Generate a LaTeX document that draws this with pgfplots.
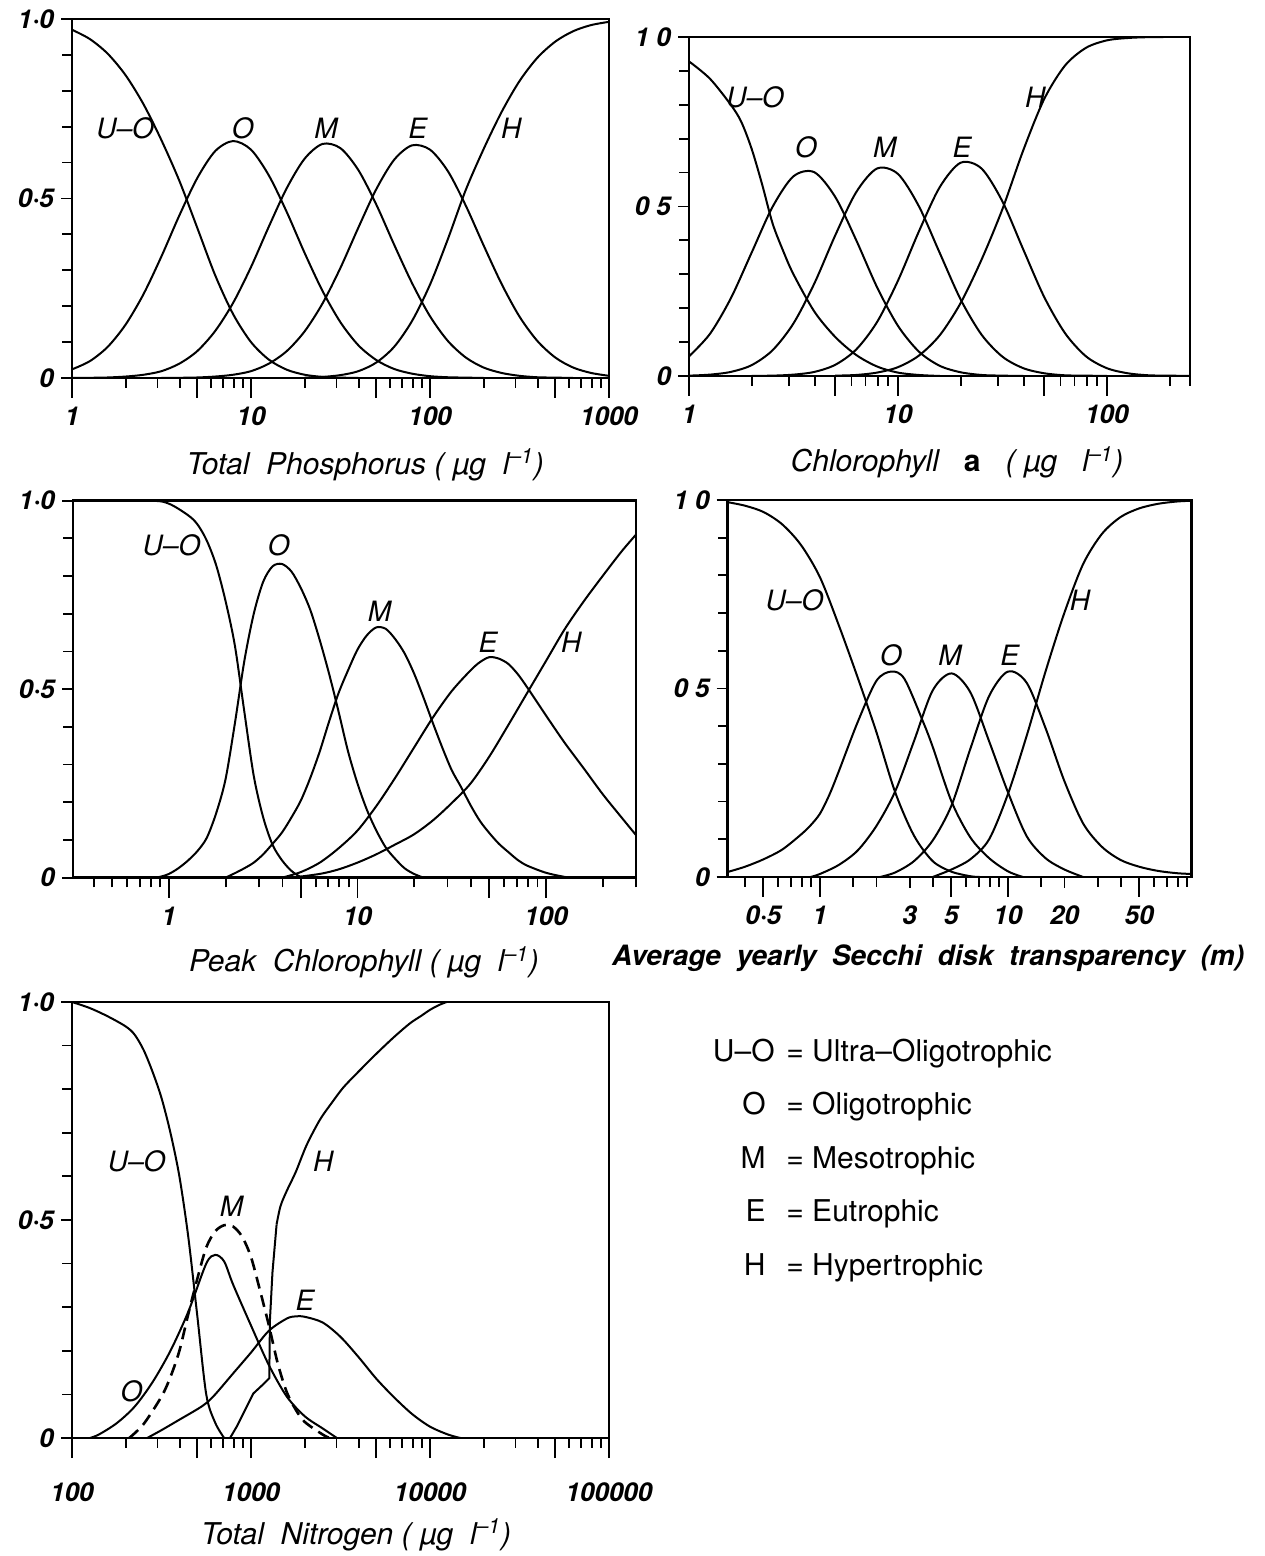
\documentclass[border=0pt]{standalone}
\usepackage{fontspec}
\setmainfont{TeX Gyre Heros}
\usepackage{pgfplots}
\pgfplotsset{compat=1.18}
\pgfplotsset{
 trophic/.style={
  anchor=south west, scale only axis, ymin=0, ymax=1,
  axis line style={line width=1.4pt},
  tick align=outside, xtick pos=left, ytick pos=left,
  major tick length=5.5pt, minor tick length=4.8pt,
  tick style={black, line width=0.9pt},
  ytick={0,0.5,1},
  minor ytick={0.1,0.2,0.3,0.4,0.6,0.7,0.8,0.9},
  extra x tick labels={},
  extra x tick style={major tick length=10pt},
  tick label style={font=\fontsize{13}{15}\selectfont\bfseries\itshape},
  xticklabel style={yshift=-5.5pt},
  xlabel style={font=\fontsize{15}{17}\selectfont\itshape, anchor=center},
 },
 crv/.style={black, line width=1pt, smooth},
}
\tikzset{lab/.style={font=\fontsize{14}{16}\selectfont\itshape}}
\begin{document}
\begin{tikzpicture}
\useasboundingbox (0,0) rectangle (632pt,778pt);

% ---------------- Panel 1: Total Phosphorus
\begin{semilogxaxis}[trophic, at={(36pt,589pt)}, width=268.5pt, height=179.5pt,
 xmin=1, xmax=1000,
 xtick={1,10,100,1000}, xticklabels={1,10,100,1000},
 extra x ticks={1,5,10,50,100,500,1000},
 minor xtick={2,3,4,6,7,8,9,20,30,40,60,70,80,90,200,300,400,600,700,800,900},
 yticklabels={0,0·5,1·0},
 xlabel={Total\ \ Phosphorus\ ( µg\ \ l\textsuperscript{–1})},
 xlabel style={at={(axis description cs:0.546,-0.242)}}]
\addplot[crv] coordinates {(1,0.970)(1.259,0.944)(1.585,0.903)(1.995,0.843)(2.512,0.762)(3.162,0.662)(3.981,0.549)(5.012,0.418)(6.31,0.286)(7.943,0.178)(10,0.100)(12.59,0.051)(15.85,0.023)(19.95,0.009)(25.12,0.003)(31.62,0.001)(39.81,0)};
\addplot[crv] coordinates {(1,0.024)(1.259,0.047)(1.585,0.087)(1.995,0.149)(2.512,0.234)(3.162,0.339)(3.981,0.453)(5.012,0.557)(6.31,0.632)(7.943,0.660)(10,0.636)(12.59,0.564)(15.85,0.462)(19.95,0.348)(25.12,0.242)(31.62,0.155)(39.81,0.091)(50.12,0.050)(63.1,0.025)(79.43,0.012)(100,0.005)(125.9,0.002)(158.5,0.001)(199.5,0)};
\addplot[crv] coordinates {(1,0)(1.259,0.0005)(1.585,0.0014)(1.995,0.004)(2.512,0.009)(3.162,0.019)(3.981,0.040)(5.012,0.075)(6.31,0.131)(7.943,0.209)(10,0.309)(12.59,0.422)(15.85,0.529)(19.95,0.611)(25.12,0.652)(31.62,0.640)(39.81,0.579)(50.12,0.483)(63.1,0.371)(79.43,0.264)(100,0.172)(125.9,0.103)(158.5,0.057)(199.5,0.029)(251.2,0.014)(316.2,0.006)(398.1,0.002)(501.2,0.001)(631,0)};
\addplot[crv] coordinates {(3.162,0)(3.981,0.0005)(5.012,0.0014)(6.31,0.004)(7.943,0.009)(10,0.019)(12.59,0.040)(15.85,0.075)(19.95,0.130)(25.12,0.208)(31.62,0.307)(39.81,0.419)(50.12,0.526)(63.1,0.608)(79.43,0.648)(100,0.636)(125.9,0.576)(158.5,0.480)(199.5,0.369)(251.2,0.262)(316.2,0.171)(398.1,0.103)(501.2,0.057)(631,0.029)(794.3,0.014)(1000,0.006)};
\addplot[crv] coordinates {(19.95,0.001)(25.12,0.003)(31.62,0.008)(39.81,0.019)(50.12,0.043)(63.1,0.087)(79.43,0.159)(100,0.260)(125.9,0.387)(158.5,0.524)(199.5,0.638)(251.2,0.741)(316.2,0.827)(398.1,0.892)(501.2,0.937)(631,0.966)(794.3,0.983)(1000,0.992)};
\node[lab] at (rel axis cs:0.099,0.696) {U–O};
\node[lab] at (rel axis cs:0.318,0.696) {O};
\node[lab] at (rel axis cs:0.473,0.696) {M};
\node[lab] at (rel axis cs:0.644,0.696) {E};
\node[lab] at (rel axis cs:0.818,0.696) {H};
\end{semilogxaxis}

% ---------------- Panel 2: Chlorophyll a
\begin{semilogxaxis}[trophic, at={(344.5pt,590pt)}, width=250.5pt, height=169.5pt,
 xmin=1, xmax=250,
 xtick={1,10,100}, xticklabels={1,10,100},
 extra x ticks={1,5,10,50,100},
 minor xtick={2,3,4,6,7,8,9,20,30,40,60,70,80,90,200,250},
 yticklabels={0,0 5,1 0},
 xlabel={Chlorophyll\ \ \ {\upshape\bfseries a}\ \ \ (\ µg\ \ \ l\textsuperscript{–1})},
 xlabel style={at={(axis description cs:0.535,-0.254)}}]
\addplot[crv] coordinates {(1,0.928)(1.259,0.877)(1.585,0.80)(1.778,0.75)(1.995,0.67)(2.239,0.565)(2.512,0.45)(2.818,0.37)(3.162,0.30)(3.981,0.19)(5.012,0.115)(6.31,0.062)(7.943,0.028)(10,0.01)(12.59,0.003)(15.85,0)};
\addplot[crv] coordinates {(1,0.058)(1.259,0.124)(1.585,0.229)(1.995,0.364)(2.512,0.499)(3.162,0.589)(3.981,0.601)(5.012,0.528)(6.31,0.401)(7.943,0.262)(10,0.148)(12.59,0.072)(15.85,0.030)(19.95,0.011)(25.12,0.003)(31.62,0.001)(39.81,0)};
\addplot[crv] coordinates {(1,0.001)(1.259,0.004)(1.585,0.012)(1.995,0.032)(2.512,0.076)(3.162,0.155)(3.981,0.273)(5.012,0.415)(6.31,0.542)(7.943,0.612)(10,0.596)(12.59,0.501)(15.85,0.363)(19.95,0.226)(25.12,0.122)(31.62,0.057)(39.81,0.023)(50.12,0.008)(63.1,0.002)(79.43,0.001)(100,0)};
\addplot[crv] coordinates {(1.995,0.0003)(2.512,0.001)(3.162,0.004)(3.981,0.012)(5.012,0.033)(6.31,0.078)(7.943,0.159)(10,0.281)(12.59,0.426)(15.85,0.557)(19.95,0.629)(25.12,0.612)(31.62,0.515)(39.81,0.373)(50.12,0.233)(63.1,0.126)(79.43,0.058)(100,0.023)(125.9,0.008)(158.5,0.002)(199.5,0.001)(250,0)};
\addplot[crv] coordinates {(5.012,0.001)(6.31,0.003)(7.943,0.010)(10,0.026)(12.59,0.060)(15.85,0.120)(19.95,0.215)(25.12,0.343)(31.62,0.492)(39.81,0.666)(50.12,0.817)(63.1,0.916)(79.43,0.968)(100,0.990)(125.9,0.997)(158.5,0.9995)(199.5,1)(250,1)};
\node[lab] at (rel axis cs:0.132,0.823) {U–O};
\node[lab] at (rel axis cs:0.2335,0.676) {O};
\node[lab] at (rel axis cs:0.391,0.676) {M};
\node[lab] at (rel axis cs:0.545,0.676) {E};
\node[lab] at (rel axis cs:0.691,0.823) {H};
\end{semilogxaxis}

% ---------------- Panel 3: Peak Chlorophyll
\begin{semilogxaxis}[trophic, at={(36.5pt,339.15pt)}, width=281.5pt, height=188.5pt,
 xmin=0.31, xmax=300,
 xtick={1,10,100}, xticklabels={1,10,100},
 extra x ticks={1,5,10,50,100},
 minor xtick={0.4,0.5,0.6,0.7,0.8,0.9,2,3,4,6,7,8,9,20,30,40,60,70,80,90,200,300},
 yticklabels={0,0·5,1·0},
 xlabel={Peak\ \ Chlorophyll\ ( µg\ \ l\textsuperscript{–1})},
 xlabel style={at={(axis description cs:0.517,-0.224)}}]
\addplot[crv] coordinates {(0.3162,1.0)(0.7943,1.0)(1,0.992)(1.259,0.962)(1.413,0.938)(1.585,0.895)(1.778,0.83)(1.995,0.735)(2.239,0.615)(2.512,0.44)(2.818,0.27)(3.162,0.16)(3.548,0.087)(3.981,0.046)(4.467,0.018)(5.012,0.002)(5.623,0)};
\addplot[crv] coordinates {(0.7943,0)(0.8913,0.002)(1,0.01)(1.122,0.025)(1.259,0.045)(1.413,0.07)(1.585,0.105)(1.778,0.17)(1.995,0.26)(2.239,0.41)(2.512,0.575)(2.818,0.70)(3.162,0.785)(3.548,0.826)(3.981,0.832)(4.467,0.812)(5.012,0.768)(5.623,0.71)(6.31,0.63)(7.079,0.54)(7.943,0.44)(8.913,0.335)(10,0.25)(11.22,0.18)(12.59,0.125)(14.13,0.08)(15.85,0.05)(17.78,0.025)(19.95,0.01)(22.39,0)};
\addplot[crv] coordinates {(1.995,0)(2.239,0.012)(2.512,0.025)(2.818,0.04)(3.162,0.062)(3.548,0.09)(3.981,0.12)(4.467,0.16)(5.012,0.205)(5.623,0.265)(6.31,0.335)(7.079,0.415)(7.943,0.49)(8.913,0.55)(10,0.605)(11.22,0.643)(12.59,0.664)(14.13,0.66)(15.85,0.633)(17.78,0.595)(19.95,0.542)(22.39,0.478)(25.12,0.41)(28.18,0.345)(31.62,0.285)(35.48,0.24)(39.81,0.192)(44.67,0.15)(50.12,0.118)(56.23,0.09)(63.1,0.068)(70.79,0.047)(79.43,0.032)(100,0.013)(125.9,0.002)(141.3,0)};
\addplot[crv] coordinates {(3.981,0)(5.012,0.015)(6.31,0.04)(7.943,0.078)(10,0.125)(12.59,0.19)(15.85,0.265)(19.95,0.345)(25.12,0.425)(31.62,0.495)(39.81,0.55)(44.67,0.572)(50.12,0.585)(56.23,0.581)(63.1,0.567)(70.79,0.54)(79.43,0.505)(100,0.43)(125.9,0.357)(158.5,0.29)(199.5,0.222)(251.2,0.16)(300,0.113)};
\addplot[crv] coordinates {(4.467,0)(6.31,0.01)(7.943,0.022)(10,0.04)(12.59,0.062)(15.85,0.088)(19.95,0.115)(25.12,0.152)(31.62,0.198)(39.81,0.25)(50.12,0.322)(63.1,0.405)(79.43,0.49)(100,0.575)(125.9,0.66)(158.5,0.733)(199.5,0.80)(251.2,0.865)(300,0.91)};
\node[lab] at (rel axis cs:0.175,0.883) {U–O};
\node[lab] at (rel axis cs:0.3655,0.883) {O};
\node[lab] at (rel axis cs:0.5446,0.707) {M};
\node[lab] at (rel axis cs:0.737,0.624) {E};
\node[lab] at (rel axis cs:0.885,0.624) {H};
\end{semilogxaxis}

% ---------------- Panel 4: Secchi
\begin{semilogxaxis}[trophic, at={(363.85pt,339.5pt)}, width=232pt, height=188.5pt,
 xmin=0.323, xmax=95,
 xtick={0.5,1,3,5,10,20,50}, xticklabels={0·5,1,3,5,10,20,50},
 extra x ticks={0.5,1,5,10,50},
 minor xtick={0.4,0.6,0.7,0.8,0.9,1.5,2,4,6,7,8,9,15,30,40,60,70,80,90},
 yticklabels={0,0 5,1 0},
 xlabel={\bfseries Average\ \ yearly\ \ Secchi\ \ disk\ \ transparency\ \ (m)},
 xlabel style={at={(axis description cs:0.432,-0.215)}, font=\fontsize{14}{16}\selectfont\itshape}]
\addplot[crv] coordinates {(0.3162,0.995)(0.3981,0.985)(0.5012,0.968)(0.631,0.935)(0.7943,0.88)(1,0.795)(1.259,0.668)(1.585,0.53)(1.995,0.385)(2.512,0.225)(3.162,0.11)(3.981,0.042)(5.012,0.014)(6.31,0.002)(7.079,0)};
\addplot[crv] coordinates {(0.3162,0.012)(0.3981,0.027)(0.5012,0.047)(0.631,0.073)(0.7943,0.113)(0.8913,0.137)(1,0.168)(1.122,0.218)(1.259,0.28)(1.585,0.41)(1.995,0.52)(2.399,0.545)(2.818,0.525)(3.548,0.41)(3.981,0.345)(5.012,0.2)(6.31,0.105)(7.943,0.05)(10,0.015)(12.02,0)};
\addplot[crv] coordinates {(0.8913,0)(1,0.008)(1.259,0.032)(1.585,0.07)(1.995,0.135)(2.512,0.227)(3.162,0.36)(3.981,0.495)(5.012,0.540)(6.31,0.49)(7.943,0.36)(10,0.225)(12.59,0.108)(15.85,0.05)(19.95,0.02)(25.12,0)};
\addplot[crv] coordinates {(2.089,0)(2.512,0.012)(3.162,0.042)(3.981,0.097)(5.012,0.19)(6.31,0.34)(7.943,0.48)(10,0.545)(12.59,0.515)(15.85,0.395)(19.95,0.255)(25.12,0.142)(31.62,0.08)(39.81,0.045)(50.12,0.027)(63.1,0.016)(79.43,0.01)(94.8,0.008)};
\addplot[crv] coordinates {(3.981,0)(5.012,0.02)(6.31,0.047)(7.943,0.1)(10,0.22)(12.59,0.375)(15.85,0.545)(19.95,0.70)(25.12,0.83)(31.62,0.91)(39.81,0.955)(50.12,0.978)(63.1,0.99)(79.43,0.996)(94.8,0.998)};
\node[lab] at (rel axis cs:0.144,0.735) {U–O};
\node[lab] at (rel axis cs:0.352,0.589) {O};
\node[lab] at (rel axis cs:0.479,0.589) {M};
\node[lab] at (rel axis cs:0.608,0.589) {E};
\node[lab] at (rel axis cs:0.759,0.735) {H};
\end{semilogxaxis}

% ---------------- Panel 5: Total Nitrogen
\begin{semilogxaxis}[trophic, at={(36pt,59pt)}, width=268.5pt, height=218pt,
 xmin=100, xmax=100000,
 xtick={100,1000,10000,100000}, xticklabels={100,1000,10000,100000},
 extra x ticks={100,500,1000,5000,10000,50000,100000},
 minor xtick={200,300,400,600,700,800,900,2000,3000,4000,6000,7000,8000,9000,20000,30000,40000,60000,70000,80000,90000},
 xticklabel style={yshift=-8pt},
 yticklabels={0,0·5,1·0},
 xlabel={Total\ \ Nitrogen\ ( µg\ \ l\textsuperscript{–1})},
 xlabel style={at={(axis description cs:0.529,-0.2225)}}]
\addplot[crv] coordinates {(100,1.0)(125.9,0.986)(158.5,0.967)(199.5,0.944)(223.9,0.925)(251.2,0.89)(281.8,0.84)(316.2,0.78)(354.8,0.70)(398.1,0.60)(446.7,0.46)(501.2,0.28)(562.3,0.10)(631,0.035)(707.9,0)};
\addplot[crv] coordinates {(125.9,0)(141.3,0.008)(177.8,0.034)(223.9,0.072)(281.8,0.128)(354.8,0.20)(446.7,0.29)(562.3,0.40)(631,0.42)(707.9,0.405)(794.3,0.352)(1000,0.258)(1259,0.167)(1585,0.095)(1995,0.05)(2512,0.022)(3020,0)};
\addplot[crv, line width=1.3pt, dash pattern=on 6pt off 3.5pt] coordinates {(208.9,0)(251.2,0.032)(316.2,0.095)(354.8,0.14)(398.1,0.20)(446.7,0.285)(501.2,0.365)(562.3,0.437)(631,0.474)(707.9,0.488)(794.3,0.485)(891.3,0.462)(1000,0.415)(1122,0.339)(1259,0.258)(1413,0.17)(1585,0.105)(1778,0.065)(1995,0.037)(2512,0.008)(2754,0)};
\addplot[crv] coordinates {(263,0)(316.2,0.018)(398.1,0.042)(501.2,0.066)(562.3,0.08)(631,0.10)(794.3,0.148)(1000,0.196)(1259,0.246)(1585,0.274)(1778,0.279)(1995,0.278)(2512,0.265)(3162,0.232)(3981,0.186)(5012,0.136)(6310,0.093)(7943,0.055)(10000,0.026)(12590,0.008)(14790,0)};
\addplot[black, line width=1pt, sharp plot] coordinates {(763.8,0)(831.8,0.026)(946.2,0.072)(1030,0.102)(1148,0.12)(1265,0.137)(1276,0.271)(1318,0.38)(1390,0.49)};
\addplot[crv] coordinates {(1390,0.49)(1462,0.532)(1585,0.567)(1778,0.61)(2046,0.672)(2427,0.73)(2818,0.768)(3281,0.804)(3981,0.84)(5035,0.882)(6310,0.92)(7727,0.951)(8913,0.968)(10000,0.982)(11220,0.993)(12390,1.0)};
\node[lab] at (rel axis cs:0.1205,0.634) {U–O};
\node[lab] at (rel axis cs:0.468,0.634) {H};
\node[lab] at (rel axis cs:0.297,0.5305) {M};
\node[lab] at (rel axis cs:0.434,0.3165) {E};
\node[lab] at (rel axis cs:0.111,0.106) {O};
\end{semilogxaxis}

% ---------------- Key
\begin{scope}[every node/.style={font=\fontsize{15}{17}\selectfont, inner sep=0pt}]
\node[anchor=base east] at (387.5pt,247pt) {U–O};
\node[anchor=base west] at (393pt,247pt) {=\ Ultra–Oligotrophic};
\node[anchor=base east] at (383pt,220.5pt) {O};
\node[anchor=base west] at (393pt,220.5pt) {=\ Oligotrophic};
\node[anchor=base east] at (383pt,193.5pt) {M};
\node[anchor=base west] at (393pt,193.5pt) {=\ Mesotrophic};
\node[anchor=base east] at (383pt,167pt) {E};
\node[anchor=base west] at (393pt,167pt) {=\ Eutrophic};
\node[anchor=base east] at (383pt,140pt) {H};
\node[anchor=base west] at (393pt,140pt) {=\ Hypertrophic};
\end{scope}
\end{tikzpicture}
\end{document}
